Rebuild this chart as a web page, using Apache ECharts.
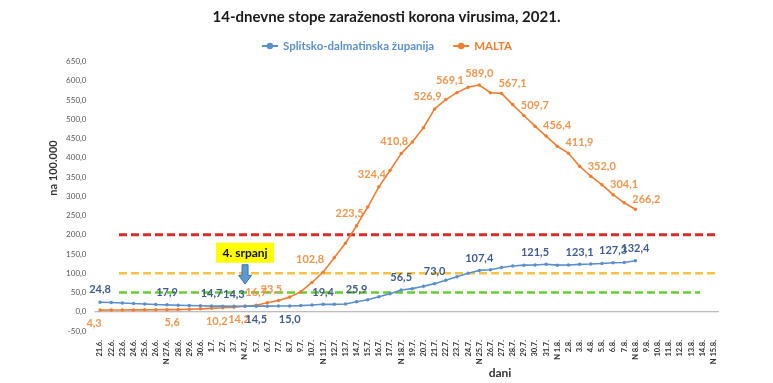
<!DOCTYPE html>
<html>
<head>
<meta charset="utf-8">
<script src="https://cdn.jsdelivr.net/npm/echarts@6/dist/echarts.min.js"></script>
<style>
html,body{margin:0;padding:0;background:#fff;}
#chart{width:773px;height:383px;}
</style>
</head>
<body>
<div id="chart"></div>
<script>
// ---- data ----
var categories = ['21.6.','22.6.','23.6.','24.6.','25.6.','26.6.','N 27.6.','28.6.','29.6.','30.6.',
  '1.7.','2.7.','3.7.','N 4.7.','5.7.','6.7.','7.7.','8.7.','9.7.','10.7.',
  'N 11.7.','12.7.','13.7.','14.7.','15.7.','16.7.','17.7.','N 18.7.','19.7.','20.7.',
  '21.7.','22.7.','23.7.','24.7.','N 25.7.','26.7.','27.7.','28.7.','29.7.','30.7.',
  '31.7.','N 1.8.','2.8.','3.8.','4.8.','5.8.','6.8.','7.8.','N 8.8.','9.8.',
  '10.8.','11.8.','12.8.','13.8.','14.8.','N 15.8.'];

var splitValues = [24.8,24.0,22.8,21.5,20.3,19.0,17.9,17.0,16.2,15.4,
  14.7,14.5,14.3,14.2,14.5,14.6,14.8,15.0,16.0,17.5,
  19.4,19.2,20.0,25.9,31.0,39.0,47.0,56.5,60.0,66.0,
  73.0,82.0,91.0,100.0,107.4,109.0,115.0,119.0,121.0,121.5,
  123.5,121.0,121.5,123.1,124.0,125.5,127.3,128.0,132.4];

var maltaValues = [4.3,4.5,4.6,4.8,5.0,5.2,5.4,5.6,6.5,7.5,
  8.8,10.2,12.0,14.2,16.7,23.5,29.0,38.0,52.0,76.0,
  102.8,140.0,178.0,223.5,272.0,324.4,367.0,410.8,441.0,478.0,
  526.9,551.0,569.1,583.0,589.0,569.0,567.1,538.0,509.7,482.0,
  456.4,430.0,411.9,378.0,352.0,330.0,304.1,283.0,266.2];

var splitLabelIdx = [0,6,10,12,14,17,20,23,27,30,34,39,43,46,48];
var maltaLabelIdx = [0,7,11,13,14,15,20,23,25,27,30,32,34,36,38,40,42,44,46,48];

var thresholdValues = [200,100,50];
var thresholdFrom = [1.7,1.7,1.7];
var thresholdTo = [55.5,55.5,53.8];

var yMin = -50, yMax = 650, yStep = 50;
var annotationCategory = 'N 4.7.';
var annotationText = '4. srpanj';

// ---- styles ----
var FONT = 'Lato, "Open Sans", sans-serif';
var blueLine = '#5B8FC9', blueLabel = '#3F5C8C';
var orangeLine = '#ED7D31', orangeLabel = '#EC9650';
var thresholdColors = ['#D42D2A','#F5C242','#66CC33'];
var thresholdWidths = [3,2.5,2.5];

var splitBelow = [14,17];
var maltaBelow = [0,7,11,13];
var maltaPeak = 34;

function fmt(v){ return v.toFixed(1).replace('.', ','); }

function buildData(values, labelIdx, styleFn){
  return values.map(function(v, i){
    if (labelIdx.indexOf(i) < 0) return v;
    return { value: v, label: styleFn(i) };
  });
}

var splitData = buildData(splitValues, splitLabelIdx, function(i){
  var below = splitBelow.indexOf(i) >= 0;
  return { show: true, position: below ? 'bottom' : 'top', distance: below ? 6 : 5 };
});
var maltaData = buildData(maltaValues, maltaLabelIdx, function(i){
  if (maltaBelow.indexOf(i) >= 0) return { show: true, position: 'bottom', distance: 6, offset: [-6, 0] };
  if (i < 16) return { show: true, position: 'top', distance: 6, offset: [i === 15 ? 4 : 0, 0] };
  if (i === maltaPeak) return { show: true, position: 'top', distance: 4 };
  if (i < maltaPeak) return { show: true, position: 'top', distance: 5, offset: [i === 20 ? -13 : -7, 0] };
  return { show: true, position: 'top', distance: 3, offset: [11, 0] };
});

var series = [];
// zero line
series.push({
  type: 'line', xAxisIndex: 1, yAxisIndex: 0, silent: true, symbol: 'none',
  data: [[-0.5, 0], [categories.length - 0.5, 0]],
  lineStyle: { color: '#A6A6A6', width: 1 }, z: 1
});
thresholdValues.forEach(function(v, k){
  series.push({
    type: 'line', xAxisIndex: 1, yAxisIndex: 0, silent: true, symbol: 'none',
    data: [[thresholdFrom[k], v], [thresholdTo[k], v]],
    lineStyle: { color: thresholdColors[k], width: thresholdWidths[k], type: [8, 4] }, z: 2
  });
});
series.push({
  name: 'Splitsko-dalmatinska županija', type: 'line', xAxisIndex: 0, yAxisIndex: 0,
  data: splitData, symbol: 'circle', symbolSize: 3.5, z: 5,
  lineStyle: { color: blueLine, width: 1.6 }, itemStyle: { color: blueLine },
  label: { show: false, color: blueLabel, fontFamily: FONT, fontSize: 11, fontWeight: 'bold', formatter: function(p){ return fmt(p.value); } }
});
series.push({
  name: 'MALTA', type: 'line', xAxisIndex: 0, yAxisIndex: 0,
  data: maltaData, symbol: 'circle', symbolSize: 3.5, z: 4,
  lineStyle: { color: orangeLine, width: 1.6 }, itemStyle: { color: orangeLine },
  label: { show: false, color: orangeLabel, fontFamily: FONT, fontSize: 11, fontWeight: 'bold', formatter: function(p){ return fmt(p.value); } }
});

var chart = echarts.init(document.getElementById('chart'), null, { renderer: 'canvas' });
chart.setOption({
  animation: false,
  backgroundColor: '#fff',
  title: {
    text: '14-dnevne stope zaraženosti korona virusima, 2021.',
    left: 'center', top: 5,
    textStyle: { fontFamily: FONT, fontSize: 15, fontWeight: 'bold', color: '#1a1a1a' }
  },
  legend: {
    top: 35, left: 'center', itemGap: 18, itemWidth: 16, itemHeight: 8,
    data: [
      { name: 'Splitsko-dalmatinska županija', textStyle: { color: blueLine } },
      { name: 'MALTA', textStyle: { color: orangeLine } }
    ],
    textStyle: { fontFamily: FONT, fontSize: 11.5, fontWeight: 'bold' }
  },
  grid: { left: 94.5, right: 54, top: 61.5, bottom: 52, containLabel: false },
  xAxis: [{
    type: 'category', data: categories, boundaryGap: true,
    axisLine: { show: false }, axisTick: { show: false },
    axisLabel: { rotate: 90, interval: 0, margin: 9, fontFamily: FONT, fontSize: 7.5, fontWeight: 'bold', color: '#333' }
  }, {
    type: 'value', min: -0.5, max: categories.length - 0.5, show: false
  }],
  yAxis: {
    type: 'value', min: yMin, max: yMax, interval: yStep,
    axisLine: { show: false }, axisTick: { show: false }, splitLine: { show: false },
    axisLabel: { margin: 8, fontFamily: FONT, fontSize: 8, color: '#555', formatter: function(v){ return fmt(v); } }
  },
  series: series
});

// annotations positioned through the axes
var boxC = chart.convertToPixel({ xAxisIndex: 0, yAxisIndex: 0 }, [annotationCategory, 153]);
var arrTop = chart.convertToPixel({ xAxisIndex: 0, yAxisIndex: 0 }, [annotationCategory, 122]);
var arrBot = chart.convertToPixel({ xAxisIndex: 0, yAxisIndex: 0 }, [annotationCategory, 72]);
var ax = arrTop[0], t = arrTop[1], b = arrBot[1], hh = (b - t) * 0.45;

chart.setOption({
  graphic: [
    { type: 'rect', shape: { x: boxC[0] - 29, y: boxC[1] - 10, width: 58, height: 20 },
      style: { fill: '#FFFF00' }, z: 10 },
    { type: 'text', x: boxC[0], y: boxC[1],
      style: { text: annotationText, fontFamily: FONT, fontSize: 12, fontWeight: 'bold', fill: '#111', align: 'center', verticalAlign: 'middle' }, z: 11 },
    { type: 'polygon', shape: { points: [
        [ax - 3, t], [ax + 3, t], [ax + 3, b - hh], [ax + 6.5, b - hh], [ax, b], [ax - 6.5, b - hh], [ax - 3, b - hh]
      ] }, style: { fill: '#5B9BD5', stroke: '#41719C', lineWidth: 1 }, z: 10 },
    { type: 'text', x: 53, y: 168, rotation: Math.PI / 2,
      style: { text: 'na 100.000', fontFamily: FONT, fontSize: 11, fontWeight: 'bold', fill: '#333', align: 'center', verticalAlign: 'middle' } },
    { type: 'text', x: 500, y: 373,
      style: { text: 'dani', fontFamily: FONT, fontSize: 12, fontWeight: 'bold', fill: '#333', align: 'center', verticalAlign: 'middle' } }
  ]
});
</script>
</body>
</html>
